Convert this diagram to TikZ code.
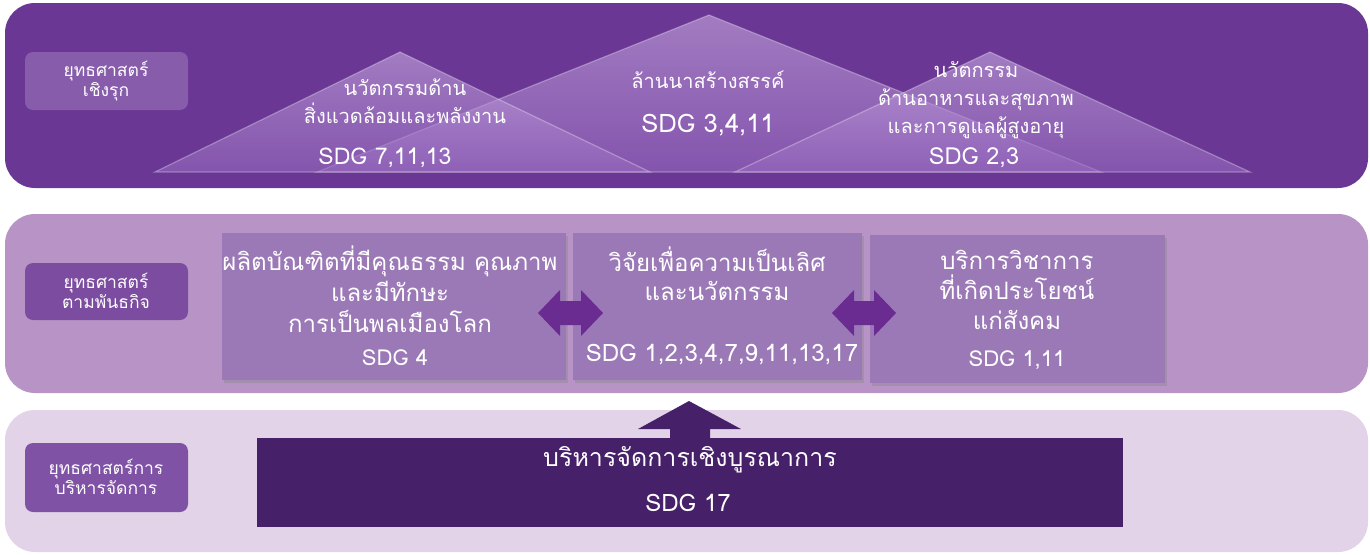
\documentclass[tikz,border=0pt]{standalone}
\usepackage{fontspec}
\newfontfamily\thai[Script=Thai]{Loma}
\usetikzlibrary{shadows}
\definecolor{topband}{RGB}{106,55,148}
\definecolor{midband}{RGB}{184,148,198}
\definecolor{lowband}{RGB}{226,211,232}
\definecolor{toplabel}{RGB}{135,92,170}
\definecolor{midlabel}{RGB}{123,76,160}
\definecolor{lowlabel}{RGB}{127,82,166}
\definecolor{boxfill}{RGB}{155,121,183}
\definecolor{tritop}{RGB}{200,170,225}
\definecolor{tribot}{RGB}{150,105,190}
\definecolor{arrowfill}{RGB}{106,44,145}
\definecolor{darkbox}{RGB}{70,32,105}
\begin{document}
\begin{tikzpicture}[x=1pt,y=-1pt,font=\thai,
  band/.style={rounded corners=30pt},
  labelbox/.style={rounded corners=8pt},
  txt/.style={text=white, align=center, inner sep=0pt},
  lbl/.style={txt, font=\thai\fontsize{17.5}{20}\selectfont},
  tri/.style={top color=tritop, bottom color=tribot, fill opacity=0.6, draw=white, draw opacity=0.3, line width=1.2pt},
  mbox/.style={fill=boxfill, drop shadow={shadow xshift=2pt, shadow yshift=-3pt, opacity=0.35}},
  blockarrow/.style={fill=arrowfill}
]
\useasboundingbox (0,0) rectangle (1370,554);
% bands
\fill[band, topband] (5,3) rectangle (1368,188);
\fill[band, midband] (5,214) rectangle (1368,393);
\fill[band, lowband] (5,410) rectangle (1368,552);
% label boxes
\fill[labelbox, toplabel] (25,52) rectangle (188,110);
\node[lbl] (l1) at (106,81) {ยุทธศาสตร์\\เชิงรุก};
\fill[labelbox, midlabel] (25,263) rectangle (188,320);
\node[lbl] (l2) at (106,291) {ยุทธศาสตร์\\ตามพันธกิจ};
\fill[labelbox, lowlabel] (25,443) rectangle (188,512);
\node[lbl] (l3) at (106,477) {ยุทธศาสตร์การ\\บริหารจัดการ};
% triangles
\path[tri] (709,15) -- (317,172) -- (1101,172) -- cycle;
\path[tri] (400,52) -- (155,172) -- (650,172) -- cycle;
\path[tri] (990,52) -- (735,172) -- (1250,172) -- cycle;
\node[txt, font=\thai\fontsize{20}{28}\selectfont] (t1) at (405,101) {นวัตกรรมด้าน\\สิ่งแวดล้อมและพลังงาน};
\node[txt, font=\thai\fontsize{23}{26}\selectfont] (s1) at (385,158) {SDG 7,11,13};
\node[txt, font=\thai\fontsize{20}{24}\selectfont] (t2) at (708,80) {ล้านนาสร้างสรรค์};
\node[txt, font=\thai\fontsize{25.5}{28}\selectfont] (s2) at (708,125) {SDG 3,4,11};
\node[txt, font=\thai\fontsize{20}{28}\selectfont] (t3) at (976,100) {นวัตกรรม\\ด้านอาหารและสุขภาพ\\และการดูแลผู้สูงอายุ};
\node[txt, font=\thai\fontsize{23.5}{26}\selectfont] (s3) at (974,158) {SDG 2,3};
% mission boxes
\fill[mbox] (222,233) rectangle (566,380);
\fill[mbox] (573,233) rectangle (862,380);
\fill[mbox] (870,235) rectangle (1165,383);
\node[txt, font=\thai\fontsize{24}{31}\selectfont] (b1) at (390,289) {ผลิตบัณฑิตที่มีคุณธรรม คุณภาพ\\และมีทักษะ\\การเป็นพลเมืองโลก};
\node[txt, font=\thai\fontsize{22}{26}\selectfont] (sb1) at (395,358) {SDG 4};
\node[txt, font=\thai\fontsize{24}{29}\selectfont] (b2) at (717,274) {วิจัยเพื่อความเป็นเลิศ\\และนวัตกรรม};
\node[txt, font=\thai\fontsize{24}{28}\selectfont] (sb2) at (722,355) {SDG 1,2,3,4,7,9,11,13,17};
\node[txt, font=\thai\fontsize{24}{30}\selectfont] (b3) at (1017,290) {บริการวิชาการ\\ที่เกิดประโยชน์\\แก่สังคม};
\node[txt, font=\thai\fontsize{22}{26}\selectfont] (sb3) at (1017,360) {SDG 1,11};
% double arrows between mission boxes
\fill[blockarrow] (538,313) -- (560,290) -- (560,301) -- (581,301) -- (581,290) -- (603,313)
  -- (581,336) -- (581,325) -- (560,325) -- (560,336) -- cycle;
\fill[blockarrow] (832,313) -- (854,290) -- (854,301) -- (874,301) -- (874,290) -- (896,313)
  -- (874,336) -- (874,325) -- (854,325) -- (854,336) -- cycle;
% management
\fill[darkbox] (257,438) rectangle (1123,527);
\fill[darkbox] (689,401) -- (741,429) -- (710,429) -- (710,439) -- (670,439) -- (670,429) -- (638,429) -- cycle;
\node[txt, font=\thai\fontsize{25}{30}\selectfont] (m1) at (690,460) {บริหารจัดการเชิงบูรณาการ};
\node[txt, font=\thai\fontsize{24}{28}\selectfont] (m2) at (688,503) {SDG 17};
\end{tikzpicture}
\end{document}
